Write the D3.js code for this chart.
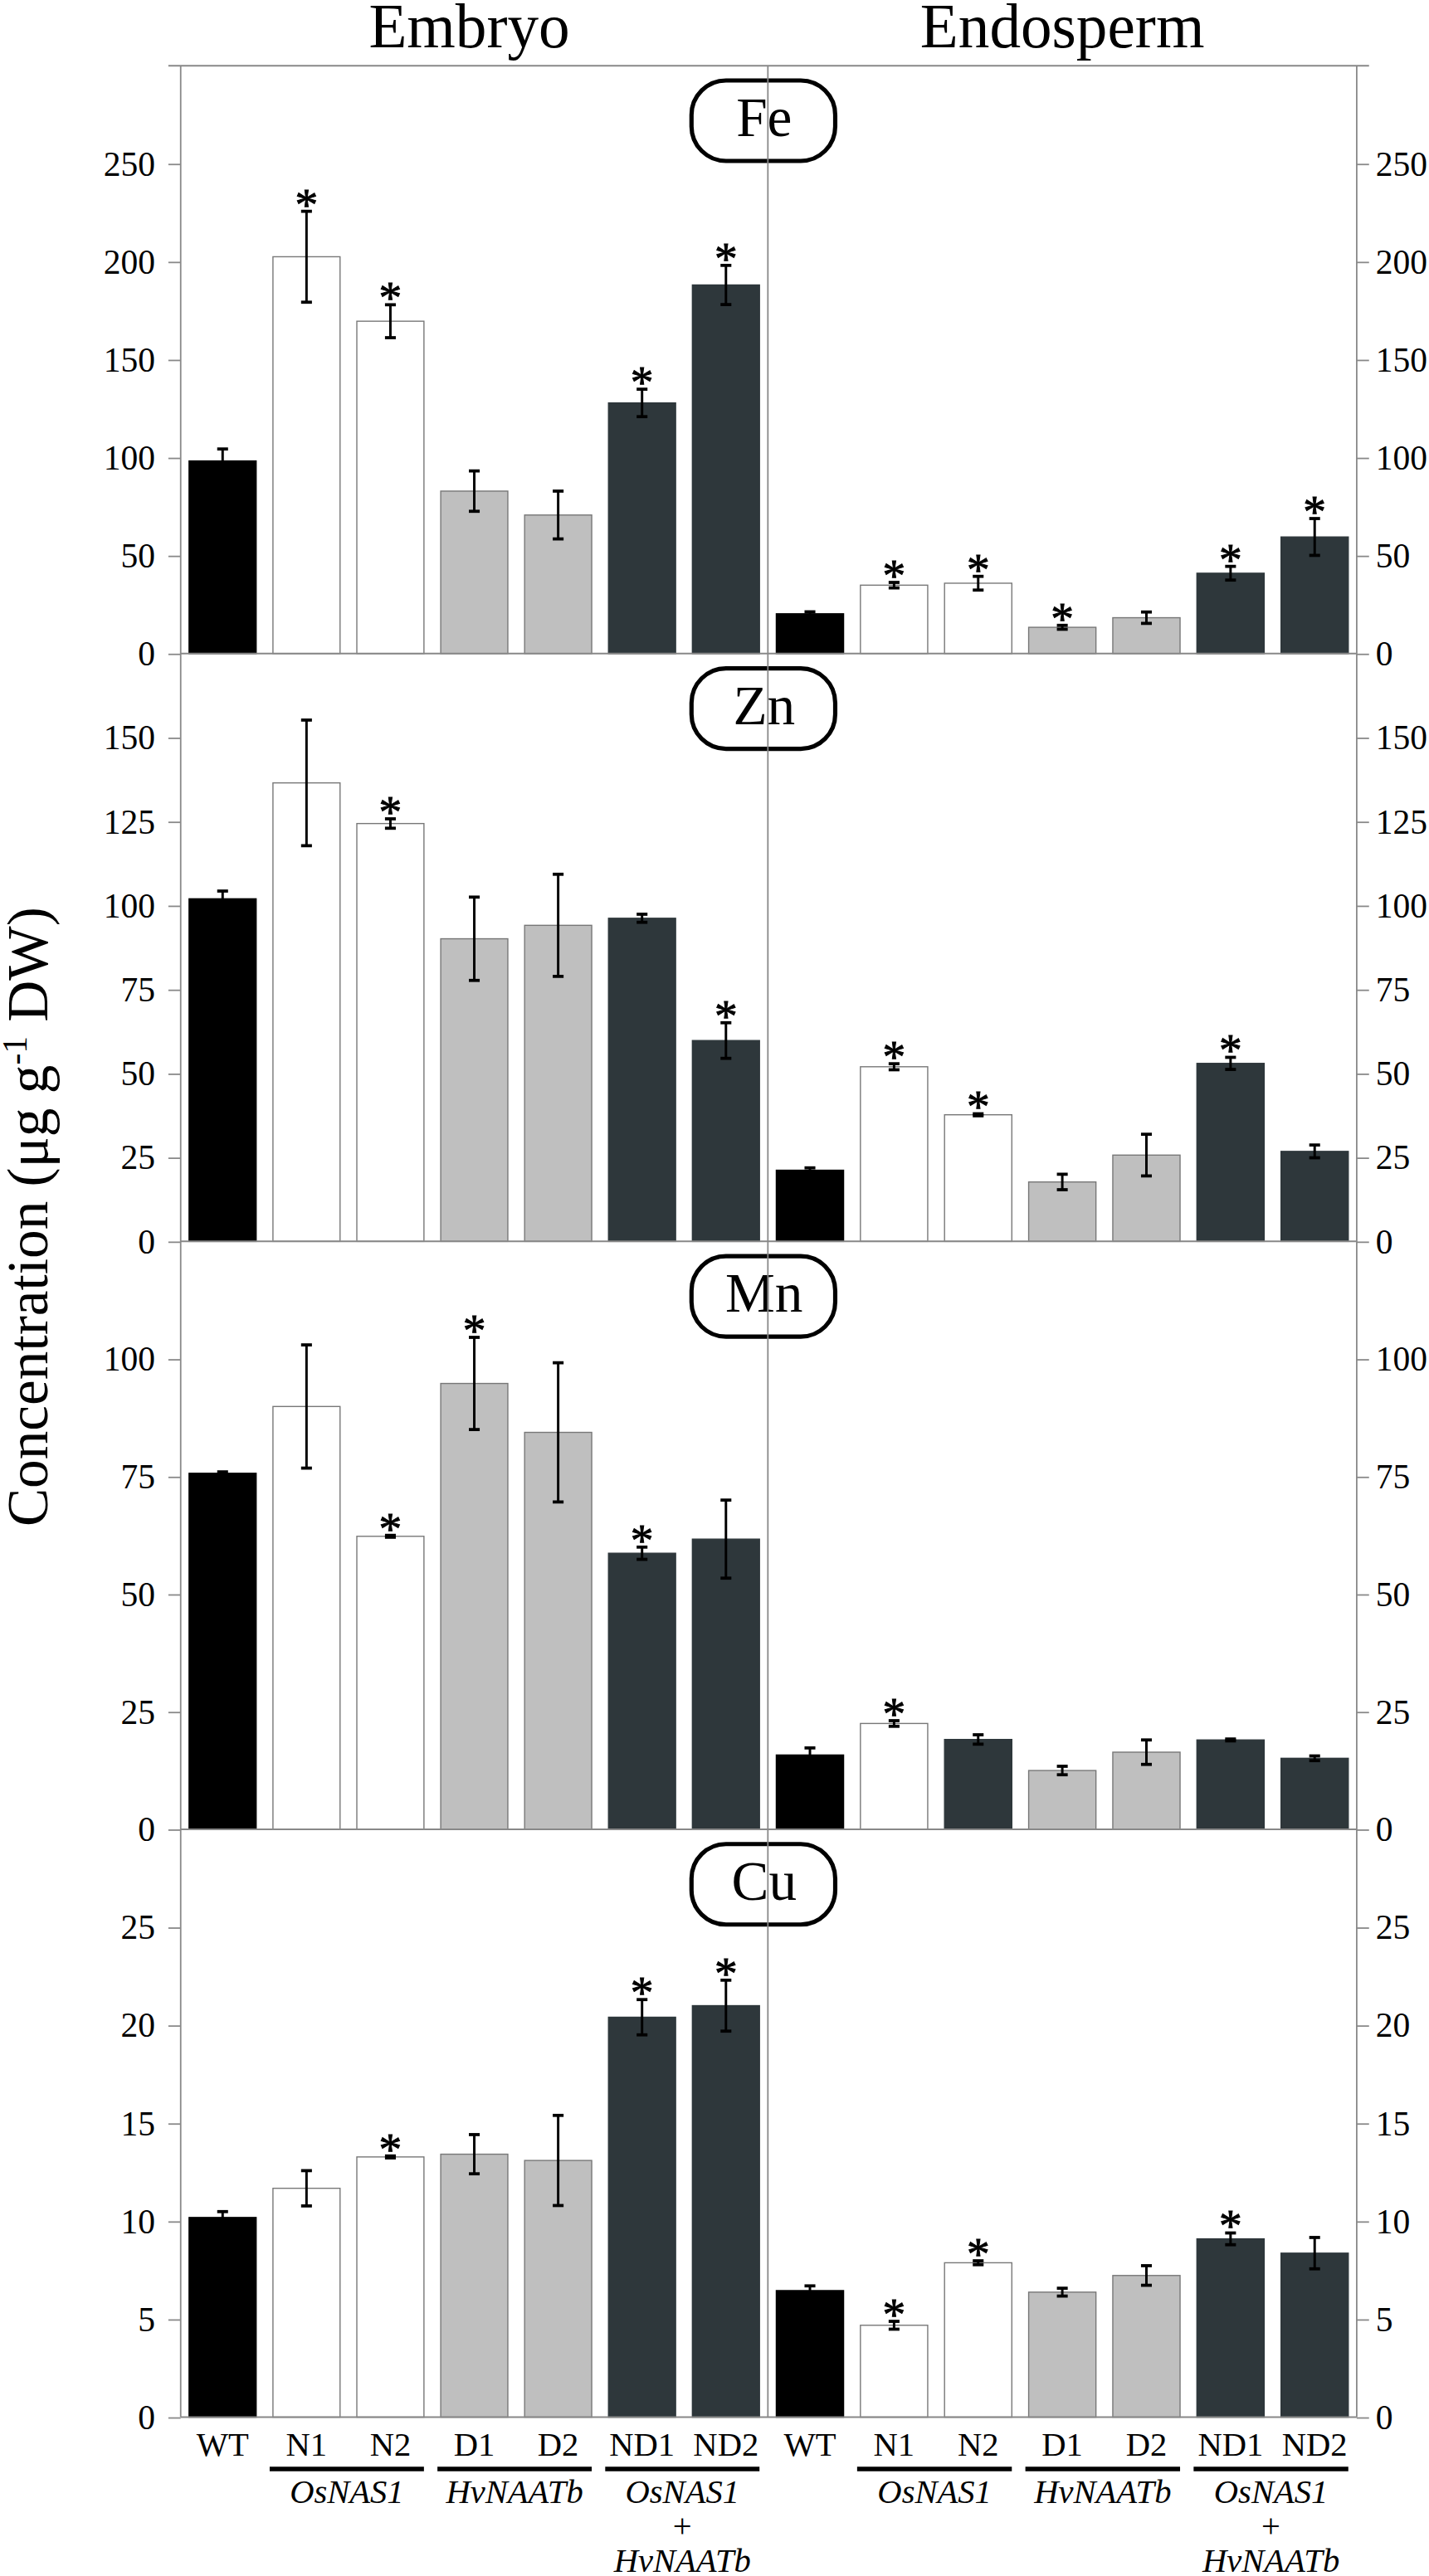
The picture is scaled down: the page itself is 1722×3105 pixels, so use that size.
<!DOCTYPE html>
<html>
<head>
<meta charset="utf-8">
<script src="https://cdn.jsdelivr.net/npm/d3@7"></script>
<style>
  body { margin: 0; background: #fff; }
  svg { display: block; }
  text { font-family: "Liberation Serif", "Times New Roman", serif; fill: #000; }
</style>
</head>
<body>
<svg id="chart"></svg>
<script>
// ---- data ----
var groups = ["WT", "N1", "N2", "D1", "D2", "ND1", "ND2"];
var elements = ["Fe", "Zn", "Mn", "Cu"];
var yMax = [300, 175, 125, 30];
var feTicks = [0, 50, 100, 150, 200, 250];
var znTicks = [0, 25, 50, 75, 100, 125, 150];
var mnTicks = [0, 25, 50, 75, 100];
var cuTicks = [0, 5, 10, 15, 20, 25];

var embryoFe = [98.3, 202.5, 169.6, 82.9, 70.7, 127.9, 188.1];
var embryoFeErr = [6.1, 23.2, 8.4, 10.3, 12.2, 7.0, 10.0];
var endoFe = [20.3, 34.9, 35.9, 13.4, 18.3, 41.0, 59.5];
var endoFeErr = [1.0, 1.4, 3.5, 1.0, 2.9, 3.5, 9.4];

var embryoZn = [102.0, 136.5, 124.4, 90.1, 94.1, 96.2, 59.8];
var embryoZnErr = [2.3, 18.7, 1.4, 12.4, 15.2, 1.2, 5.3];
var endoZn = [21.2, 52.0, 37.7, 17.7, 25.7, 53.0, 26.8];
var endoZnErr = [0.7, 0.9, 0.3, 2.3, 6.2, 1.8, 1.9];

var embryoMn = [75.7, 89.9, 62.3, 94.8, 84.4, 58.7, 61.7];
var embryoMnErr = [0.3, 13.1, 0.2, 9.8, 14.8, 1.3, 8.3];
var endoMn = [15.8, 22.5, 19.1, 12.5, 16.4, 19.0, 15.1];
var endoMnErr = [1.5, 0.6, 1.0, 0.9, 2.6, 0.2, 0.5];

var embryoCu = [10.19, 11.68, 13.28, 13.42, 13.1, 20.41, 21.0];
var embryoCuErr = [0.3, 0.9, 0.05, 1.0, 2.3, 0.9, 1.3];
var endoCu = [6.46, 4.69, 7.88, 6.38, 7.23, 9.10, 8.37];
var endoCuErr = [0.24, 0.2, 0.1, 0.2, 0.5, 0.3, 0.8];

// significant difference from WT (asterisks)
var embryoFeSig = ["N1", "N2", "ND1", "ND2"];
var endoFeSig = ["N1", "N2", "D1", "ND1", "ND2"];
var embryoZnSig = ["N2", "ND2"];
var endoZnSig = ["N1", "N2", "ND1"];
var embryoMnSig = ["N2", "D1", "ND1"];
var endoMnSig = ["N1"];
var embryoCuSig = ["N2", "ND1", "ND2"];
var endoCuSig = ["N1", "N2", "ND1"];

var lineGroups = [["N1", "N2", "OsNAS1"], ["D1", "D2", "HvNAATb"], ["ND1", "ND2", "OsNAS1"]];

// ---- layout / style ----
var W = 870, H = 3105 * 870 / 1722;
var plotTop = 40, panelH = 358, plotLeft = 110, plotMid = 467.5, plotRight = 826;
var axisGrey = "#888";
var dark = "#2e373b";
var fills = {WT: "#000", N1: "#fff", N2: "#fff", D1: "#bfbfbf", D2: "#bfbfbf", ND1: dark, ND2: dark};
// the endosperm Mn N2 bar is printed dark in the original
var fillOverride = {"Endosperm-Mn-N2": dark};

var series = {
  Embryo: {
    Fe: [embryoFe, embryoFeErr, embryoFeSig], Zn: [embryoZn, embryoZnErr, embryoZnSig],
    Mn: [embryoMn, embryoMnErr, embryoMnSig], Cu: [embryoCu, embryoCuErr, embryoCuSig]
  },
  Endosperm: {
    Fe: [endoFe, endoFeErr, endoFeSig], Zn: [endoZn, endoZnErr, endoZnSig],
    Mn: [endoMn, endoMnErr, endoMnSig], Cu: [endoCu, endoCuErr, endoCuSig]
  }
};
var ticks = [feTicks, znTicks, mnTicks, cuTicks];

var svg = d3.select("#chart")
  .attr("width", 1722).attr("height", 3105)
  .attr("viewBox", "0 0 " + W + " " + H);

var xScales = {
  Embryo: d3.scaleBand().domain(groups).range([plotLeft, plotMid]).paddingInner(0.2).paddingOuter(0.1),
  Endosperm: d3.scaleBand().domain(groups).range([plotMid, plotRight]).paddingInner(0.2).paddingOuter(0.1)
};
var plotBottom = plotTop + 4 * panelH;

// titles
svg.append("text").attr("x", (plotLeft + plotMid) / 2 - 3).attr("y", 29).attr("text-anchor", "middle")
  .attr("font-size", 38).text("Embryo");
svg.append("text").attr("x", (plotMid + plotRight) / 2).attr("y", 29).attr("text-anchor", "middle")
  .attr("font-size", 38).text("Endosperm");

// y axis title
var yt = svg.append("text").attr("transform", "translate(29," + 741 + ") rotate(-90)")
  .attr("text-anchor", "middle").attr("font-size", 35);
yt.append("tspan").text("Concentration (\u03bcg g");
yt.append("tspan").attr("font-size", 21).attr("dy", -13).text("-1");
yt.append("tspan").attr("dy", 13).text(" DW)");

elements.forEach(function(el, i) {
  var y = d3.scaleLinear().domain([0, yMax[i]])
    .range([plotTop + (i + 1) * panelH, plotTop + i * panelH]);
  var g = svg.append("g");

  // bars, error bars, asterisks
  ["Embryo", "Endosperm"].forEach(function(tissue) {
    var x = xScales[tissue];
    var s = series[tissue][el];
    var rows = groups.map(function(k, j) {
      return {k: k, v: s[0][j], e: s[1][j], sig: s[2].indexOf(k) >= 0,
              fill: fillOverride[tissue + "-" + el + "-" + k] || fills[k]};
    });
    var bw = x.bandwidth();

    g.selectAll(null).data(rows).enter().append("rect")
      .attr("x", function(d) { return x(d.k); })
      .attr("y", function(d) { return y(d.v); })
      .attr("width", bw)
      .attr("height", function(d) { return y(0) - y(d.v); })
      .attr("fill", function(d) { return d.fill; })
      .attr("stroke", function(d) { return (d.fill === "#fff" || d.fill === "#bfbfbf") ? "#777" : d.fill; })
      .attr("stroke-width", 0.7);

    var eb = g.selectAll(null).data(rows).enter().append("g")
      .attr("stroke", "#000");
    eb.append("line")
      .attr("x1", function(d) { return x(d.k) + bw / 2; })
      .attr("x2", function(d) { return x(d.k) + bw / 2; })
      .attr("y1", function(d) { return y(d.v + d.e); })
      .attr("y2", function(d) { return y(d.v - d.e); })
      .attr("stroke-width", 1.5);
    [1, -1].forEach(function(sg) {
      eb.append("line")
        .attr("x1", function(d) { return x(d.k) + bw / 2 - 3.3; })
        .attr("x2", function(d) { return x(d.k) + bw / 2 + 3.3; })
        .attr("y1", function(d) { return y(d.v + sg * d.e); })
        .attr("y2", function(d) { return y(d.v + sg * d.e); })
        .attr("stroke-width", 1.9);
    });

    g.selectAll(null).data(rows.filter(function(d) { return d.sig; })).enter().append("text")
      .attr("x", function(d) { return x(d.k) + bw / 2; })
      .attr("y", function(d) { return y(d.v + d.e) + 5; })
      .attr("text-anchor", "middle").attr("font-size", 28)
      .attr("stroke", "#000").attr("stroke-width", 0.5)
      .text("*");
  });

  // axes
  var la = g.append("g").attr("transform", "translate(" + plotLeft + ",0)")
    .call(d3.axisLeft(y).tickValues(ticks[i]).tickSize(7.5).tickPadding(8));
  var ra = g.append("g").attr("transform", "translate(" + plotRight + ",0)")
    .call(d3.axisRight(y).tickValues(ticks[i]).tickSize(7.5).tickPadding(4));
  [la, ra].forEach(function(a) {
    a.select(".domain").remove();
    a.selectAll(".tick line").attr("stroke", axisGrey).attr("stroke-width", 0.9);
    a.selectAll(".tick text").attr("font-size", 21)
      .attr("font-family", "'Liberation Serif', 'Times New Roman', serif").attr("fill", "#000");
  });

  // zero line
  g.append("line").attr("x1", plotLeft).attr("x2", plotRight).attr("y1", y(0)).attr("y2", y(0))
    .attr("stroke", axisGrey).attr("stroke-width", 1);

  // element label
  var pt = plotTop + i * panelH;
  g.append("rect").attr("x", 421).attr("y", pt + 9).attr("width", 87.5).attr("height", 49)
    .attr("rx", 21).attr("fill", "#fff").attr("stroke", "#000").attr("stroke-width", 2.6);
  g.append("text").attr("x", 465.2).attr("y", pt + 43).attr("text-anchor", "middle")
    .attr("font-size", 34).text(el);
});

// frame lines
svg.append("line").attr("x1", plotLeft - 7.5).attr("x2", plotRight + 7.5)
  .attr("y1", plotTop).attr("y2", plotTop)
  .attr("stroke", axisGrey).attr("stroke-width", 1);
[plotLeft, plotMid, plotRight].forEach(function(xx) {
  svg.append("line").attr("x1", xx).attr("x2", xx).attr("y1", plotTop).attr("y2", plotBottom)
    .attr("stroke", axisGrey).attr("stroke-width", 0.9);
});

// category labels and construct names
["Embryo", "Endosperm"].forEach(function(tissue) {
  var x = xScales[tissue];
  var bw = x.bandwidth();
  svg.selectAll(null).data(groups).enter().append("text")
    .attr("x", function(d) { return x(d) + bw / 2; })
    .attr("y", 1495.3).attr("text-anchor", "middle").attr("font-size", 20.5)
    .text(function(d) { return d; });

  lineGroups.forEach(function(lg, j) {
    var x0 = x(lg[0]) - 2, x1 = x(lg[1]) + bw;
    svg.append("line").attr("x1", x0).attr("x2", x1).attr("y1", 1503.6).attr("y2", 1503.6)
      .attr("stroke", "#000").attr("stroke-width", 2.8);
    var cx = (x0 + x1) / 2;
    svg.append("text").attr("x", cx).attr("y", 1524.5).attr("text-anchor", "middle")
      .attr("font-size", 20.5).attr("font-style", "italic").text(lg[2]);
    if (j === 2) {
      svg.append("text").attr("x", cx).attr("y", 1545).attr("text-anchor", "middle")
        .attr("font-size", 20.5).text("+");
      svg.append("text").attr("x", cx).attr("y", 1566).attr("text-anchor", "middle")
        .attr("font-size", 20.5).attr("font-style", "italic").text("HvNAATb");
    }
  });
});
</script>
</body>
</html>
